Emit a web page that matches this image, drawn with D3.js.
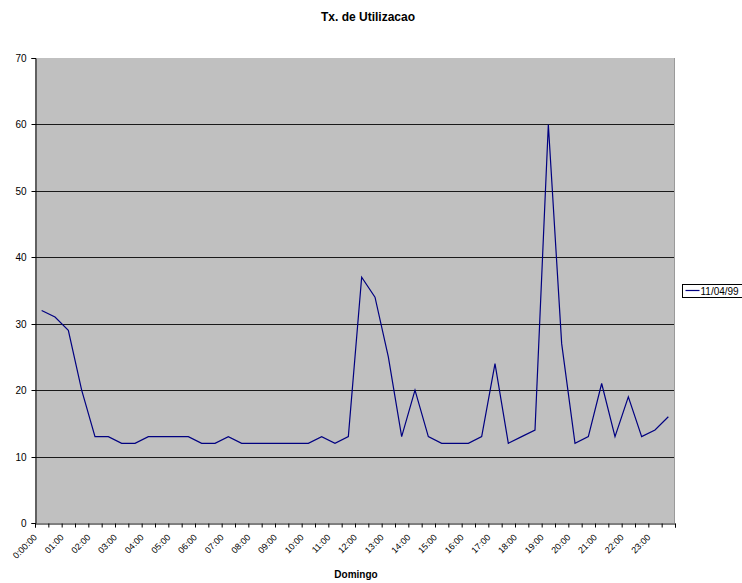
<!DOCTYPE html>
<html>
<head>
<meta charset="utf-8">
<script src="https://cdn.jsdelivr.net/npm/d3@7/dist/d3.min.js"></script>
<style>
  html, body { margin: 0; padding: 0; background: #fff; }
  svg { display: block; font-family: Arial, "Liberation Sans", sans-serif; }
</style>
</head>
<body>
<svg id="chart" width="742" height="583"></svg>
<script>
// Half-hourly utilisation rate for Sunday (series "11/04/99")
const times = [
  "00:00","00:30","01:00","01:30","02:00","02:30","03:00","03:30",
  "04:00","04:30","05:00","05:30","06:00","06:30","07:00","07:30",
  "08:00","08:30","09:00","09:30","10:00","10:30","11:00","11:30",
  "12:00","12:30","13:00","13:30","14:00","14:30","15:00","15:30",
  "16:00","16:30","17:00","17:30","18:00","18:30","19:00","19:30",
  "20:00","20:30","21:00","21:30","22:00","22:30","23:00","23:30"
];
const values = [
  32, 31, 29, 20, 13, 13, 12, 12,
  13, 13, 13, 13, 12, 12, 13, 12,
  12, 12, 12, 12, 12, 13, 12, 13,
  37, 34, 25, 13, 20, 13, 12, 12,
  12, 13, 24, 12, 13, 14, 60, 27,
  12, 13, 21, 13, 19, 13, 14, 16
];
const hourLabels = [
  "0:00:00","01:00","02:00","03:00","04:00","05:00","06:00","07:00",
  "08:00","09:00","10:00","11:00","12:00","13:00","14:00","15:00",
  "16:00","17:00","18:00","19:00","20:00","21:00","22:00","23:00"
];
const yTicks = [0, 10, 20, 30, 40, 50, 60, 70];
const seriesName = "11/04/99";
const chartTitle = "Tx. de Utilizacao";
const xTitle = "Domingo";

const svg = d3.select("#chart");
const plot = { left: 35, right: 675, top: 58, bottom: 523 };

const x = d3.scaleBand().domain(d3.range(times.length)).range([plot.left, plot.right]).padding(0);
const xEdge = d3.scaleLinear().domain([0, times.length]).range([plot.left, plot.right]);
const y = d3.scaleLinear().domain([0, 70]).range([plot.bottom, plot.top]);
const cx = i => x(i) + x.bandwidth() / 2;

// plot area
svg.append("rect")
  .attr("x", plot.left).attr("y", plot.top)
  .attr("width", plot.right - plot.left).attr("height", plot.bottom - plot.top)
  .attr("fill", "#c0c0c0");
svg.append("line")
  .attr("x1", plot.right - 0.5).attr("x2", plot.right - 0.5)
  .attr("y1", plot.top).attr("y2", plot.bottom)
  .attr("stroke", "#9a9a9a");

// horizontal gridlines
svg.append("g").selectAll("line")
  .data(yTicks.filter(v => v > 0 && v < 70))
  .join("line")
  .attr("x1", plot.left).attr("x2", plot.right - 1)
  .attr("y1", d => Math.round(y(d)) + 0.5).attr("y2", d => Math.round(y(d)) + 0.5)
  .attr("stroke", "#1a1a1a").attr("stroke-width", 1);

// y axis
const yAxis = svg.append("g")
  .attr("transform", `translate(${plot.left + 0.5},0)`)
  .call(d3.axisLeft(y).tickValues(yTicks).tickSize(4).tickPadding(5).tickFormat(d3.format("d")));
yAxis.select(".domain").attr("stroke", "#000");
yAxis.selectAll(".tick line").attr("stroke", "#000");
yAxis.selectAll(".tick").attr("transform", d => `translate(0,${Math.round(y(d)) + 0.5})`);
yAxis.selectAll("text").attr("font-size", 10).attr("font-family", "Arial, 'Liberation Sans', sans-serif").attr("fill", "#000");

// x axis: tick marks on category boundaries
const xAxis = svg.append("g")
  .attr("transform", `translate(0,${plot.bottom + 0.5})`)
  .call(d3.axisBottom(xEdge).tickValues(d3.range(times.length + 1)).tickSize(4).tickFormat(""));
xAxis.select(".domain").attr("stroke", "#000");
xAxis.selectAll(".tick line").attr("stroke", "#000");

// hourly category labels, rotated
svg.append("g").selectAll("text")
  .data(hourLabels)
  .join("text")
  .attr("transform", (d, i) => `translate(${cx(i * 2) - 4},${plot.bottom + 15}) rotate(-45)`)
  .attr("text-anchor", "end")
  .attr("font-size", 9)
  .attr("fill", "#000")
  .text(d => d);

// series line
const line = d3.line().x((d, i) => cx(i)).y(d => y(d));
svg.append("path")
  .datum(values)
  .attr("d", line)
  .attr("fill", "none")
  .attr("stroke", "#000080")
  .attr("stroke-width", 1.2);

// titles
svg.append("text")
  .attr("x", 368).attr("y", 21)
  .attr("text-anchor", "middle")
  .attr("font-size", 12).attr("font-weight", "bold")
  .text(chartTitle);
svg.append("text")
  .attr("x", 356).attr("y", 578)
  .attr("text-anchor", "middle")
  .attr("font-size", 10).attr("font-weight", "bold")
  .text(xTitle);

// legend
const legend = svg.append("g").attr("transform", "translate(682.5,284.5)");
legend.append("rect").attr("width", 70).attr("height", 13)
  .attr("fill", "#fff").attr("stroke", "#000");
legend.append("line").attr("x1", 3).attr("x2", 17).attr("y1", 6).attr("y2", 6)
  .attr("stroke", "#000080").attr("stroke-width", 1.2);
legend.append("text").attr("x", 18).attr("y", 10)
  .attr("font-size", 10).text(seriesName);
</script>
</body>
</html>
